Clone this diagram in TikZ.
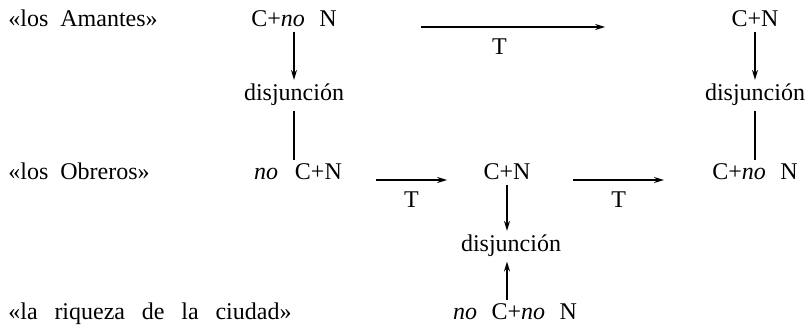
\documentclass[tikz,border=0pt]{standalone}
\usepackage{fontspec}
\setmainfont{Liberation Serif}
\usetikzlibrary{arrows.meta,positioning,calc}

\begin{document}
\begin{tikzpicture}[
  x=0.5pt,y=-0.5pt,
  every node/.style={font=\fontsize{12}{14}\selectfont,inner sep=2pt},
  group/.style={anchor=base west},
  term/.style={anchor=base},
  arr/.style={-{Stealth[length=5pt,width=3pt]},thick},
  plain/.style={thick},
]
  \useasboundingbox (0,0) rectangle (811,331);

  % groups
  \node[group] (am) at (4,27) {«los\ \ Amantes»};
  \node[group] (ob) at (4,180) {«los\ \ Obreros»};
  \node[group] (ri) at (4,320) {«la\hspace{0.7em}riqueza\hspace{0.7em}de\hspace{0.7em}la\hspace{0.7em}ciudad»};

  % first column
  \node[term] (amC) at (294,27) {C+\textit{no}\hspace{0.6em}N};
  \node[term] (dA) at (294,101) {disjunción};
  \node[term] (obA) at (298,180) {\textit{no}\hspace{0.7em}C+N};

  % middle column
  \node[term] (obB) at (507,180) {C+N};
  \node[term] (dB) at (511,252) {disjunción};
  \node[term] (riB) at (515,320) {\textit{no}\hspace{0.6em}C+\textit{no}\hspace{0.6em}N};

  % right column
  \node[term] (amR) at (755,27) {C+N};
  \node[term] (dR) at (755,101) {disjunción};
  \node[term] (obR) at (755,180) {C+\textit{no}\hspace{0.6em}N};

  \draw[arr] (amC.south) -- (dA.north);
  \draw[plain] (dA.south) -- (dA.south |- obA.north);
  \draw[arr] (amR.south) -- (dR.north);
  \draw[plain] (dR.south) -- (obR.north);
  \draw[arr] (obB.south) -- (obB.south |- dB.north);
  \draw[arr] (riB.north -| obB.south) -- (dB.south -| obB.south);

  \draw[arr,shorten <=40pt,shorten >=61pt] (amC.base east) -- node[below=3.5pt,pos=0.41] (tA) {T} (amR.base west);
  \draw[arr,shorten <=15pt,shorten >=16pt] (obA.base east) -- node[below=3.5pt,pos=0.49] (tB) {T} (obB.base west);
  \draw[arr,shorten <=19pt,shorten >=22pt] (obB.base east) -- node[below=3.5pt,pos=0.485] (tC) {T} (obR.base west);
\end{tikzpicture}
\end{document}
